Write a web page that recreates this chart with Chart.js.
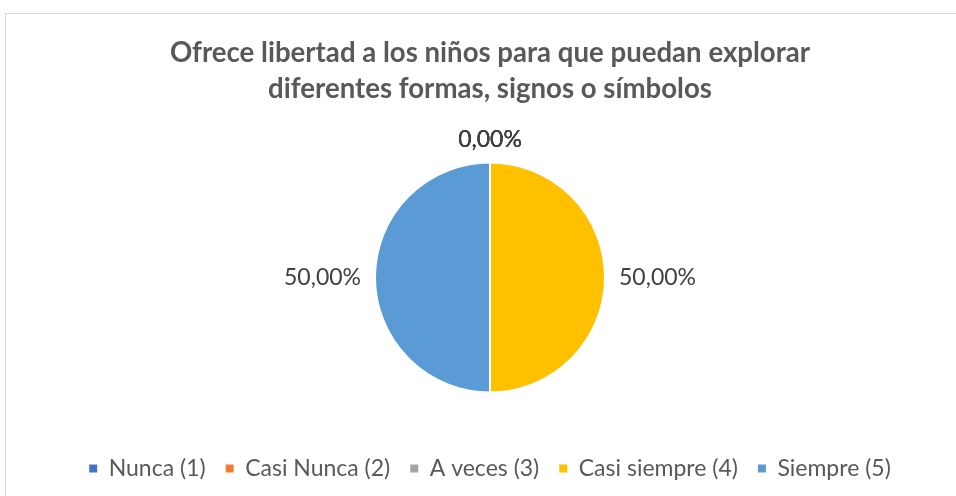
<!DOCTYPE html>
<html>
<head>
<meta charset="utf-8">
<script src="https://cdn.jsdelivr.net/npm/chart.js@4/dist/chart.umd.min.js"></script>
<style>
  html, body { margin: 0; padding: 0; background: #ffffff; }
  #wrap { position: relative; width: 956px; height: 496px; }
</style>
</head>
<body>
<div id="wrap"><canvas id="c" width="956" height="496"></canvas></div>
<script>
const titleLines = ["Ofrece libertad a los niños para que puedan explorar", "diferentes formas, signos o símbolos"];
const categories = ["Nunca (1)", "Casi Nunca (2)", "A veces (3)", "Casi siempre (4)", "Siempre (5)"];
const percentages = [0, 0, 0, 50, 50];
const sliceColors = ["#4472C4", "#ED7D31", "#A5A5A5", "#FFC000", "#5B9BD5"];

const FONT = "Lato, 'Open Sans', 'Liberation Sans', sans-serif";

function fmtPct(v) {
  return v.toFixed(2).replace('.', ',') + '%';
}

const framePlugin = {
  id: 'frame',
  beforeDraw(chart) {
    const ctx = chart.ctx;
    ctx.save();
    ctx.fillStyle = '#ffffff';
    ctx.fillRect(0, 0, chart.width, chart.height);
    ctx.strokeStyle = '#d9d9d9';
    ctx.lineWidth = 1;
    ctx.strokeRect(5.5, 13.5, 1200, 1200);
    ctx.restore();
  }
};

const labelPlugin = {
  id: 'sliceLabels',
  afterDatasetsDraw(chart) {
    const ctx = chart.ctx;
    const meta = chart.getDatasetMeta(0);
    ctx.save();
    ctx.font = "23px " + FONT;
    ctx.fillStyle = '#404040';
    ctx.textAlign = 'center';
    ctx.textBaseline = 'middle';
    meta.data.forEach((arc, i) => {
      const p = arc.getProps(['x', 'y', 'startAngle', 'endAngle', 'outerRadius'], true);
      const mid = (p.startAngle + p.endAngle) / 2;
      const dx = Math.cos(mid), dy = Math.sin(mid);
      const txt = fmtPct(percentages[i]);
      const w = ctx.measureText(txt).width;
      const h = 18;
      const d = p.outerRadius + 14;
      const x = p.x + dx * d + dx * w / 2;
      const y = p.y + dy * d + dy * h / 2;
      ctx.fillText(txt, x, y);
    });
    ctx.restore();
  }
};

new Chart(document.getElementById('c'), {
  type: 'pie',
  data: {
    labels: categories,
    datasets: [{
      data: percentages,
      backgroundColor: sliceColors,
      borderColor: '#ffffff',
      borderWidth: 2,
      radius: 115
    }]
  },
  plugins: [framePlugin, labelPlugin],
  options: {
    responsive: false,
    animation: false,
    layout: { padding: { top: 0, bottom: 6, left: 24, right: 0 } },
    plugins: {
      tooltip: { enabled: false },
      title: {
        display: true,
        text: titleLines,
        color: '#595959',
        font: { family: FONT, size: 27.6, weight: 'bold', lineHeight: 1.3 },
        padding: { top: 35, bottom: 11 }
      },
      legend: {
        position: 'bottom',
        labels: {
          color: '#595959',
          font: { family: FONT, size: 23 },
          boxWidth: 8,
          boxHeight: 8,
          padding: 20,
          generateLabels(chart) {
            return categories.map((c, i) => ({
              text: c,
              fillStyle: sliceColors[i],
              strokeStyle: sliceColors[i],
              lineWidth: 0,
              fontColor: '#595959',
              hidden: false,
              index: i
            }));
          }
        }
      }
    }
  }
});
</script>
</body>
</html>
